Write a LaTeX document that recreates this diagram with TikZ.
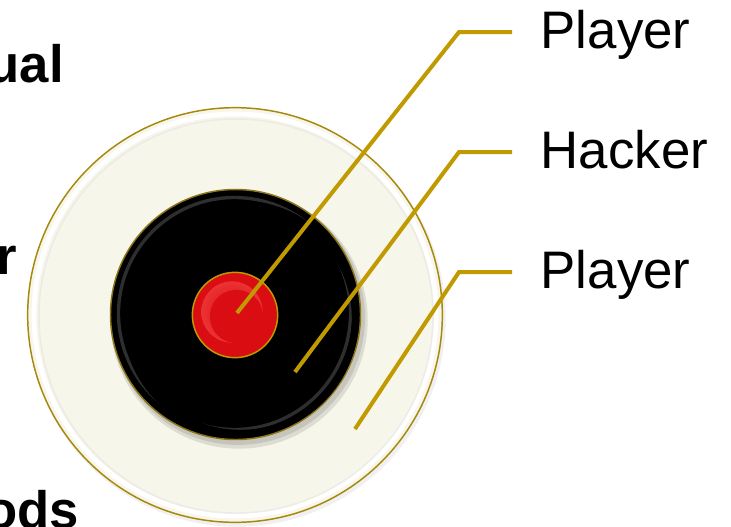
\documentclass[tikz,border=0pt]{standalone}
\usepackage{fontspec}
\setmainfont{Liberation Sans}
\usetikzlibrary{fadings}
\definecolor{gold}{RGB}{192,154,0}
\definecolor{goldb}{RGB}{168,136,10}
\definecolor{goldd}{RGB}{140,116,24}
\definecolor{cream}{RGB}{246,246,234}
\definecolor{redc}{RGB}{218,14,18}
\definecolor{redl}{RGB}{240,60,60}
\begin{document}
\begin{tikzpicture}[x=0.75pt,y=-0.75pt,
  lead/.style={draw=gold, line width=3pt, line join=miter},
  lbl/.style={font=\fontsize{39.6}{47}\selectfont, anchor=base west, inner sep=0pt},
  side/.style={font=\fontsize{39.5}{47}\selectfont\bfseries, anchor=base east, inner sep=0pt},
  disc/.style={circle, inner sep=0pt, line width=1.1pt}]
\useasboundingbox (0,0) rectangle (731,526);
% side texts (cut off at the border, as in the reference)
\node[side] (s1) at (64,82.7) {ual};
\node[side] (s2) at (17,274) {r};
\node[side] (s3) at (79,528) {ods};
% outer disc
\fill[black, opacity=0.06] (237,318) circle[radius=156.5pt];
\node[disc, fill=cream, draw=goldb, minimum size=311pt] (outer) at (235,315) {};
\draw[white, line width=3.5pt] (outer.center) circle[radius=150.8pt];
\draw[black!12, line width=1.2pt, opacity=0.45] ([shift={(1,1)}]outer.center) circle[radius=147.8pt];
% black disc with shadow
\fill[black, opacity=0.10] (239,320) circle[radius=96.5pt];
\fill[black, opacity=0.10] (238,318) circle[radius=95.2pt];
\node[disc, fill=black, draw=goldd, minimum size=187.5pt] (blk) at (235.5,314.5) {};
\draw[black!60, line width=2.5pt, opacity=0.45] ([shift={(-1,-1)}]blk.center) circle[radius=87pt];
\draw[black, line width=5pt] ([shift={(5,4)}]blk.center) circle[radius=86pt];
% red disc
\node[disc, fill=redc, draw=gold, minimum size=64pt] (red) at (235,315) {};
\shade[inner color=redc, outer color=redl, opacity=0.8] ([shift={(-3,-3)}]red.center) circle[radius=23pt];
\fill[redc] ([shift={(1.5,1.5)}]red.center) circle[radius=20pt];
% leader lines
\coordinate (a1) at (237,313);
\coordinate (a2) at (295,372);
\coordinate (a3) at (355,429);
\coordinate (e1) at (459,32);
\coordinate (e2) at (459,152);
\coordinate (e3) at (459,272);
\coordinate (h1) at (512,32);
\coordinate (h2) at (512,152);
\coordinate (h3) at (512,272);
\draw[lead] (a1) -- (e1) -- (h1);
\draw[lead] (a2) -- (e2) -- (h2);
\draw[lead] (a3) -- (e3) -- (h3);
% labels
\node[lbl] (t1) at (540.5,48.5) {Player};
\node[lbl] (t2) at (540.5,168.5) {Hacker};
\node[lbl] (t3) at (540.5,288.5) {Player};
\end{tikzpicture}
\end{document}
